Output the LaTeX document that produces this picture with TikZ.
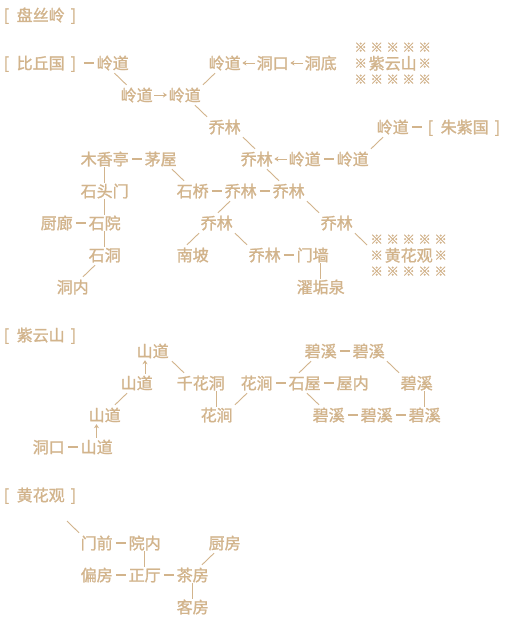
\documentclass[tikz,border=0pt]{standalone}
\usepackage{fontspec}
\newfontfamily\cjk[FakeBold=1.2,AutoFakeBold=0]{Noto Sans CJK SC}
\usetikzlibrary{calc,arrows.meta}
\definecolor{tan}{RGB}{210,180,140}
\newcommand\km{\makebox[16pt]{\raisebox{1.5pt}{\fontsize{12.5pt}{12.5pt}\selectfont ※}}}
\newcommand\kmrow[1]{\hbox{\vrule width0pt height14.15pt depth1.85pt #1}}
\newcommand\lb{\makebox[16pt][l]{\hspace*{3pt}[}}
\newcommand\rb{\makebox[16pt][l]{\hspace*{6pt}]}}
\begin{document}
\begin{tikzpicture}[x=1pt,y=-1pt,
  room/.style={anchor=west,inner sep=0pt,text=tan,text height=14.15pt,text depth=1.85pt,
    font=\cjk\fontsize{16pt}{16pt}\selectfont},
  kbox/.style={anchor=north west,inner sep=0pt,text=tan,font=\cjk\fontsize{16pt}{16pt}\selectfont},
  link/.style={draw=tan,line width=1.6pt,shorten <=3pt,shorten >=3pt},
  diag/.style={draw=tan,line width=0.9pt},
  harrow/.style={draw=tan,line width=0.9pt,-{Stealth[length=4pt,width=5pt]},shorten <=1.5pt,shorten >=1.5pt},
  varrow/.style={draw=tan,line width=0.9pt,-{Stealth[length=4pt,width=5pt]}}]
\fill[white] (0,0) rectangle (522,630);
\useasboundingbox (0,0) rectangle (522,630);
% ---------- 盘丝岭 ----------
\node[room] (hdr1) at (0.5,15) {\lb 盘丝岭\rb};
\node[room] (bqg) at (0.5,63) {\lb 比丘国\rb};
\node[room] (ld1) at (96.5,63) {岭道};
\node[room] (ld2) at (208.5,63) {岭道};
\node[room] (dk) at (256.5,63) {洞口};
\node[room] (dd) at (304.5,63) {洞底};
\node[kbox] (zys) at (352.5,39) {\vbox{\offinterlineskip
  \kmrow{\km\km\km\km\km}\kmrow{\km 紫云山\km}\kmrow{\km\km\km\km\km}}};
\node[room] (ld3) at (120.5,95) {岭道};
\node[room] (ld4) at (168.5,95) {岭道};
\node[room] (ql1) at (208.5,127) {乔林};
\node[room] (ld5) at (376.5,127) {岭道};
\node[room] (zzg) at (424.5,127) {\lb 朱紫国\rb};
\node[room] (mxt) at (80.5,159) {木香亭};
\node[room] (mw) at (144.5,159) {茅屋};
\node[room] (ql2) at (240.5,159) {乔林};
\node[room] (ld6) at (288.5,159) {岭道};
\node[room] (ld7) at (336.5,159) {岭道};
\node[room] (stm) at (80.5,191) {石头门};
\node[room] (sq) at (176.5,191) {石桥};
\node[room] (ql3) at (224.5,191) {乔林};
\node[room] (ql4) at (272.5,191) {乔林};
\node[room] (cl) at (40.5,223) {厨廊};
\node[room] (sy) at (88.5,223) {石院};
\node[room] (ql5) at (200.5,223) {乔林};
\node[room] (ql6) at (320.5,223) {乔林};
\node[kbox] (hhg) at (368.5,231) {\vbox{\offinterlineskip
  \kmrow{\km\km\km\km\km}\kmrow{\km 黄花观\km}\kmrow{\km\km\km\km\km}}};
\node[room] (sd) at (88.5,255) {石洞};
\node[room] (nb) at (176.5,255) {南坡};
\node[room] (ql7) at (248.5,255) {乔林};
\node[room] (mq) at (296.5,255) {门墙};
\node[room] (dn) at (56.5,287) {洞内};
\node[room] (zgq) at (296.5,287) {濯垢泉};
% dashes
\draw[link] (bqg.east) -- (ld1.west);
\draw[link] (ld5.east) -- (zzg.west);
\draw[link] (mxt.east) -- (mw.west);
\draw[link] (ld6.east) -- (ld7.west);
\draw[link] (sq.east) -- (ql3.west);
\draw[link] (ql3.east) -- (ql4.west);
\draw[link] (cl.east) -- (sy.west);
\draw[link] (ql7.east) -- (mq.west);
% arrows
\draw[harrow] (ld3.east) -- (ld4.west);
\draw[harrow] (dk.west) -- (ld2.east);
\draw[harrow] (dd.west) -- (dk.east);
\draw[harrow] (ld6.west) -- (ql2.east);
% diagonals
\draw[diag] ($(ld1.south west)+(18,2)$) -- ($(ld3.north west)+(6,-2)$);
\draw[diag] ($(ld2.south west)+(6.5,2)$) -- ($(ld4.north west)+(34.5,-2)$);
\draw[diag] ($(ld4.south west)+(26.5,2)$) -- ($(ql1.north west)+(-1.5,-2)$);
\draw[diag] ($(ql1.south west)+(34.5,2)$) -- ($(ql2.north west)+(14.5,-2)$);
\draw[diag] ($(ld5.south west)+(6.5,2)$) -- ($(ld7.north west)+(34.5,-2)$);
\draw[diag] ($(mw.south west)+(27.5,2)$) -- ($(sq.north west)+(7.5,-2)$);
\draw[diag] ($(ql2.south west)+(26.5,2)$) -- ($(ql4.north west)+(6.5,-2)$);
\draw[diag] ($(ql3.south west)+(5.5,2)$) -- ($(ql5.north west)+(17.5,-2)$);
\draw[diag] ($(ql4.south west)+(34.5,2)$) -- ($(ql6.north west)+(-1.5,-2)$);
\draw[diag] ($(ql5.south west)+(-1.5,2)$) -- ($(nb.north west)+(10.5,-2)$);
\draw[diag] ($(ql5.south west)+(34.5,2)$) -- ($(ql7.north west)+(-1.5,-2)$);
\draw[diag] ($(ql6.south west)+(34.5,2)$) -- ($(hhg.north west)+(-1.5,14)$);
\draw[diag] ($(sd.south west)+(6.5,2)$) -- ($(dn.north west)+(26.5,-2)$);
% verticals
\draw[diag] (mxt.south) -- (stm.north);
\draw[diag] (stm.south) -- (sy.north);
\draw[diag] (sy.south) -- (sd.north);
\draw[diag] (zgq.north |- mq.south) -- (zgq.north);
% ---------- 紫云山 ----------
\node[room] (hdr2) at (0.5,335) {\lb 紫云山\rb};
\node[room] (sd1) at (136.5,351) {山道};
\node[room] (bx1) at (304.5,351) {碧溪};
\node[room] (bx2) at (352.5,351) {碧溪};
\node[room] (sd2) at (120.5,383) {山道};
\node[room] (qhd) at (176.5,383) {千花洞};
\node[room] (hj) at (240.5,383) {花涧};
\node[room] (sw) at (288.5,383) {石屋};
\node[room] (wn) at (336.5,383) {屋内};
\node[room] (bx3) at (400.5,383) {碧溪};
\node[room] (sd3) at (88.5,415) {山道};
\node[room] (hd) at (200.5,415) {花涧};
\node[room] (bx4) at (312.5,415) {碧溪};
\node[room] (bx5) at (360.5,415) {碧溪};
\node[room] (bx6) at (408.5,415) {碧溪};
\node[room] (dk2) at (32.5,447) {洞口};
\node[room] (sd4) at (80.5,447) {山道};
\draw[link] (bx1.east) -- (bx2.west);
\draw[link] (hj.east) -- (sw.west);
\draw[link] (sw.east) -- (wn.west);
\draw[link] (bx4.east) -- (bx5.west);
\draw[link] (bx5.east) -- (bx6.west);
\draw[link] (dk2.east) -- (sd4.west);
\draw[varrow] ($(sd2.north west)+(24.5,-1)$) -- ($(sd1.south west)+(8.5,1)$);
\draw[varrow] ($(sd4.north west)+(16,-1)$) -- ($(sd3.south west)+(8,1)$);
\draw[diag] ($(sd1.south west)+(35.5,2)$) -- ($(qhd.north west)+(7.5,-2)$);
\draw[diag] ($(sd2.south west)+(6.5,2)$) -- ($(sd3.north west)+(26.5,-2)$);
\draw[diag] ($(hj.south west)+(6.5,2)$) -- ($(hd.north west)+(34.5,-2)$);
\draw[diag] ($(bx1.south west)+(6.5,2)$) -- ($(sw.north west)+(10.5,-2)$);
\draw[diag] ($(bx2.south west)+(34.5,2)$) -- ($(bx3.north west)+(-1.5,-2)$);
\draw[diag] ($(sw.south west)+(18.5,2)$) -- ($(bx4.north west)+(6.5,-2)$);
\draw[diag] (hd.north |- qhd.south) -- (hd.north);
\draw[diag] (bx6.north |- bx3.south) -- (bx6.north);
% ---------- 黄花观 ----------
\node[room] (hdr3) at (0.5,495) {\lb 黄花观\rb};
\coordinate (free) at (67,521);
\node[room] (mqn) at (80.5,543) {门前};
\node[room] (yn) at (128.5,543) {院内};
\node[room] (cf) at (208.5,543) {厨房};
\node[room] (pf) at (80.5,575) {偏房};
\node[room] (zt) at (128.5,575) {正厅};
\node[room] (chf) at (176.5,575) {茶房};
\node[room] (kf) at (176.5,607) {客房};
\draw[link] (mqn.east) -- (yn.west);
\draw[link] (pf.east) -- (zt.west);
\draw[link] (zt.east) -- (chf.west);
\draw[diag] (free) -- ($(mqn.north west)+(-1.5,-2)$);
\draw[diag] ($(cf.south west)+(5.5,2)$) -- ($(chf.north west)+(25.5,-2)$);
\draw[diag] (yn.south) -- (zt.north);
\draw[diag] (chf.south) -- (kf.north);
\end{tikzpicture}
\end{document}
